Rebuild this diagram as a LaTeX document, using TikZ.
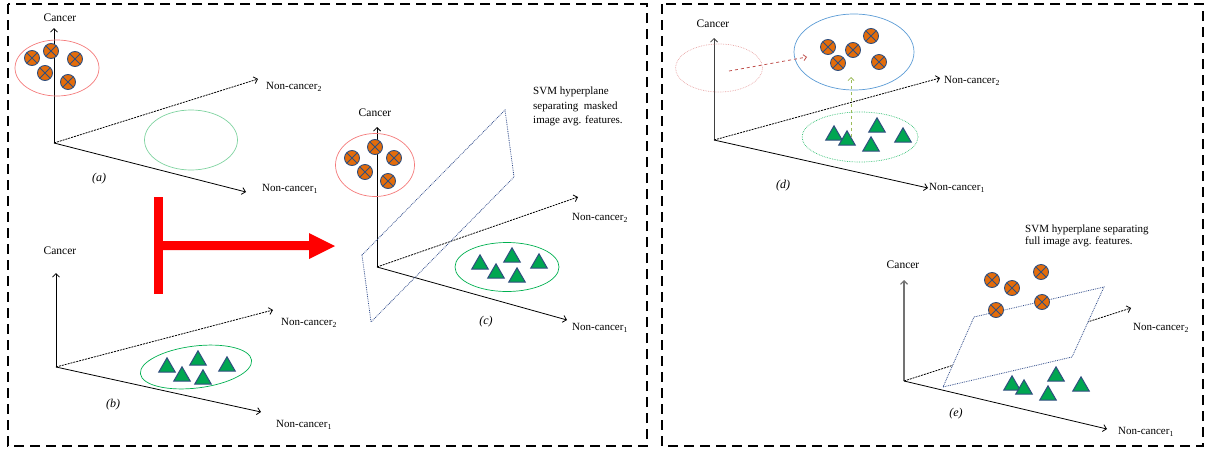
\documentclass[tikz,border=0pt]{standalone}
\usepackage{fontspec}
\setmainfont{Liberation Serif}
\usetikzlibrary{arrows.meta,shapes.geometric}

\definecolor{ptorange}{HTML}{E46C0A}
\definecolor{ptgreen}{HTML}{00A651}
\definecolor{ptborder}{HTML}{2F4E7E}
\definecolor{ringred}{HTML}{F47A7A}
\definecolor{ringgreen}{HTML}{00B050}
\definecolor{ringlight}{HTML}{7FD3A0}
\definecolor{ringblue}{HTML}{5B9BD5}
\definecolor{ringpink}{HTML}{E8A4A4}
\definecolor{planeblue}{HTML}{2E4A8A}
\definecolor{movered}{HTML}{C0504D}
\definecolor{moveolive}{HTML}{9BBB59}

\tikzset{
  ax/.style={line width=0.8pt, -{Straight Barb[length=3.5pt,width=7pt]}},
  axd/.style={ax, dash pattern=on 2pt off 1pt},
  xpt/.style={circle, draw=ptborder, fill=ptorange, line width=0.9pt,
    minimum size=15pt, inner sep=0pt,
    path picture={\draw[ptborder, line width=0.8pt]
      (path picture bounding box.north west) -- (path picture bounding box.south east)
      (path picture bounding box.north east) -- (path picture bounding box.south west);}},
  tpt/.style={regular polygon, regular polygon sides=3, draw=ptborder, fill=ptgreen,
    line width=1pt, minimum size=19pt, inner sep=0pt, yshift=-2.3pt},
  ring/.style={ellipse, draw, line width=0.7pt, inner sep=0pt},
  txt/.style={font=\fontsize{11}{13}\selectfont, inner sep=0pt},
  axlbl/.style={txt, anchor=west},
  axname/.style={font=\fontsize{11.5}{13}\selectfont, inner sep=0pt},
  tag/.style={font=\fontsize{12}{14}\selectfont\itshape, inner sep=0pt},
  plane/.style={draw=planeblue, line width=0.8pt, densely dotted},
  panel/.style={line width=1.8pt, dash pattern=on 10pt off 6pt},
  move/.style={line width=0.8pt, dashed, -{Straight Barb[length=3pt,width=6pt]}}
}

\begin{document}
\begin{tikzpicture}[x=1pt,y=-1pt]
\useasboundingbox (0,0) rectangle (1206,450);

% panel frames
\draw[panel] (8,4) rectangle (647,446);
\draw[panel] (662,4) rectangle (1203,446);

% ---------- (a) ----------
\coordinate (oa) at (54,143);
\coordinate (ca) at (54,28);
\coordinate (n2a) at (258,79);
\coordinate (n1a) at (246,192);
\draw[ax] (oa) -- (ca);
\draw[axd] (oa) -- (n2a);
\draw[ax] (oa) -- (n1a);
\node[axname] (lca) at (60,18) {Cancer};
\node[axlbl] (l2a) at (266,87) {Non-cancer\textsubscript{2}};
\node[axlbl] (l1a) at (262,189) {Non-cancer\textsubscript{1}};
\node[ring, draw=ringred, minimum width=84pt, minimum height=56pt] (ra) at (57,68) {};
\node[ring, draw=ringlight, minimum width=93pt, minimum height=60pt] (ga) at (191,140) {};
\node[xpt] (a1) at (32,58) {};
\node[xpt] (a2) at (51,51) {};
\node[xpt] (a3) at (75,59) {};
\node[xpt] (a4) at (45,73) {};
\node[xpt] (a5) at (68,82) {};
\node[tag] (taga) at (99,179) {(a)};

% ---------- (b) ----------
\coordinate (ob) at (56,367);
\coordinate (cb) at (56,273);
\coordinate (n2b) at (273,310);
\coordinate (n1b) at (261,412);
\draw[ax] (ob) -- (cb);
\draw[axd] (ob) -- (n2b);
\draw[ax] (ob) -- (n1b);
\node[axname] (lcb) at (60,251) {Cancer};
\node[axlbl] (l2b) at (281,323) {Non-cancer\textsubscript{2}};
\node[axlbl] (l1b) at (276,425) {Non-cancer\textsubscript{1}};
\node[ring, draw=ringgreen, minimum width=112pt, minimum height=42pt, rotate=7] (gb) at (196,367) {};
\node[tpt] (b1) at (167,365) {};
\node[tpt] (b2) at (198,358) {};
\node[tpt] (b3) at (227,364) {};
\node[tpt] (b4) at (182,374) {};
\node[tpt] (b5) at (203,377) {};
\node[tag] (tagb) at (113,405) {(b)};

% merge arrow
\fill[red] (154,197) rectangle (163,294);
\fill[red] (163,241) -- (309,241) -- (309,233) -- (335,246) -- (309,259) -- (309,250) -- (163,250) -- cycle;

% ---------- (c) ----------
\coordinate (oc) at (377,267);
\coordinate (cc) at (377,127);
\coordinate (n2c) at (578,197);
\coordinate (n1c) at (567,320);
\draw[ax] (oc) -- (cc);
\draw[axd] (oc) -- (n2c);
\draw[ax] (oc) -- (n1c);
\coordinate (pc1) at (362,255);
\coordinate (pc2) at (505,110);
\coordinate (pc3) at (514,177);
\coordinate (pc4) at (371,322);
\draw[plane] (pc1) -- (pc2) -- (pc3) -- (pc4) -- cycle;
\node[axname] (lcc) at (375,113) {Cancer};
\node[axlbl] (l2c) at (572,218) {Non-cancer\textsubscript{2}};
\node[axlbl] (l1c) at (572,328) {Non-cancer\textsubscript{1}};
\node[ring, draw=ringred, minimum width=79pt, minimum height=63pt] (rc) at (375,165) {};
\node[ring, draw=ringgreen, minimum width=104pt, minimum height=49pt] (gc) at (507,267) {};
\node[xpt] (c1) at (352,158) {};
\node[xpt] (c2) at (375,147) {};
\node[xpt] (c3) at (394,158) {};
\node[xpt] (c4) at (365,172) {};
\node[xpt] (c5) at (388,181) {};
\node[tpt] (c6) at (480,262) {};
\node[tpt] (c7) at (512,255) {};
\node[tpt] (c8) at (539,261) {};
\node[tpt] (c9) at (496,271) {};
\node[tpt] (c10) at (517,275) {};
\node[tag] (tagc) at (486,322) {(c)};
\node[txt, anchor=north west, align=left, font=\fontsize{11}{14.5}\selectfont] (svmc) at (533,87)
  {SVM hyperplane\\separating~ masked\\image avg. features.};

% ---------- (d) ----------
\coordinate (od) at (714,140);
\coordinate (cd) at (714,38);
\coordinate (n2d) at (940,78);
\coordinate (n1d) at (928,188);
\draw[ax, draw=black!75] (od) -- (cd);
\draw[axd] (od) -- (n2d);
\draw[ax] (od) -- (n1d);
\node[axname] (lcd) at (713,24) {Cancer};
\node[axlbl] (l2d) at (944,81) {Non-cancer\textsubscript{2}};
\node[axlbl] (l1d) at (929,188) {Non-cancer\textsubscript{1}};
\node[ring, draw=ringpink, densely dotted, minimum width=87pt, minimum height=48pt] (rd) at (719,68) {};
\node[ring, draw=ringblue, minimum width=120pt, minimum height=76pt] (bd) at (854,52) {};
\node[ring, draw=ringgreen!80, densely dotted, minimum width=116pt, minimum height=50pt] (gd) at (860,137) {};
\coordinate (mr0) at (729,71);
\coordinate (mr1) at (807,57);
\coordinate (mg0) at (851,137);
\coordinate (mg1) at (851,77);
\draw[move, movered] (mr0) -- (mr1);
\draw[move, moveolive] (mg0) -- (mg1);
\node[xpt] (d1) at (828,47) {};
\node[xpt] (d2) at (853,50) {};
\node[xpt] (d3) at (871,36) {};
\node[xpt] (d4) at (838,63) {};
\node[xpt] (d5) at (879,62) {};
\node[tpt] (d6) at (834,133) {};
\node[tpt] (d7) at (847,138) {};
\node[tpt] (d8) at (877,125) {};
\node[tpt] (d9) at (871,144) {};
\node[tpt] (d10) at (903,135) {};
\node[tag] (tagd) at (783,186) {(d)};

% ---------- (e) ----------
\coordinate (oe) at (904,381);
\coordinate (ce) at (904,280);
\coordinate (n2e) at (1131,308);
\coordinate (n1e) at (1107,429);
\draw[ax, draw=black!55, line width=1.1pt] (oe) -- (ce);
\draw[axd] (oe) -- (n2e);
\draw[ax] (oe) -- (n1e);
\coordinate (pe1) at (974,317);
\coordinate (pe2) at (1104,287);
\coordinate (pe3) at (1072,357);
\coordinate (pe4) at (943,387);
\draw[plane, fill=white] (pe1) -- (pe2) -- (pe3) -- (pe4) -- cycle;
\node[axname] (lce) at (903,265) {Cancer};
\node[axlbl] (l2e) at (1133,328) {Non-cancer\textsubscript{2}};
\node[axlbl] (l1e) at (1118,432) {Non-cancer\textsubscript{1}};
\node[xpt] (e1) at (992,280) {};
\node[xpt] (e2) at (1012,288) {};
\node[xpt] (e3) at (1041,272) {};
\node[xpt] (e4) at (996,310) {};
\node[xpt] (e5) at (1042,302) {};
\node[tpt] (e6) at (1012,383) {};
\node[tpt] (e7) at (1024,387) {};
\node[tpt] (e8) at (1056,374) {};
\node[tpt] (e9) at (1048,393) {};
\node[tpt] (e10) at (1081,384) {};
\node[tag] (tage) at (956,414) {(e)};
\node[txt, anchor=north west, align=left, font=\fontsize{11}{12}\selectfont] (svme) at (1025,225)
  {SVM hyperplane separating\\full image avg. features.};
\end{tikzpicture}
\end{document}
